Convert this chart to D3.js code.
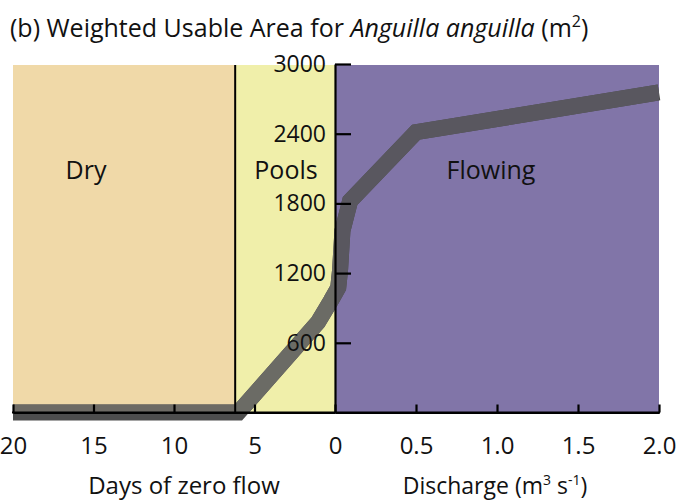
<!DOCTYPE html>
<html>
<head>
<meta charset="utf-8">
<script src="https://cdn.jsdelivr.net/npm/d3@7/dist/d3.min.js"></script>
<style>
  html, body { margin: 0; padding: 0; background: #fff; }
  svg { display: block; font-family: "Open Sans", "Noto Sans", sans-serif; }
</style>
</head>
<body>
<svg id="chart" width="676" height="502"></svg>
<script>
// ---- data ----
const dayTicks = [20, 15, 10, 5, 0];
const dischargeTicks = [0.5, 1.0, 1.5, 2.0];
const dischargeTickLabels = ["0.5", "1.0", "1.5", "2.0"];
const wuaTicks = [600, 1200, 1800, 2400, 3000];
const regionNames = ["Dry", "Pools", "Flowing"];
const dryPoolsBoundaryDays = 6.2;
// curve, days-of-zero-flow side
const curveDays = [20, 6, 1.06, 0.25];
const curveDaysWUA = [0, 0, 776, 964];
// curve, discharge side
const curveDischarge = [0.02, 0.031, 0.046, 0.093, 0.5, 2.0];
const curveDischargeWUA = [1075, 1221, 1564, 1821, 2413, 2756];

// ---- layout ----
const svg = d3.select("#chart");
const pLeft = 13, pMid = 335, pRight = 659, pTop = 64, pBottom = 412.5;
const xDays = d3.scaleLinear().domain([20, 0]).range([pLeft, pMid]);
const xQ = d3.scaleLinear().domain([0, 2]).range([pMid, pRight]);
const y = d3.scaleLinear().domain([0, 3000]).range([pBottom, pTop]);

const regionColors = ["#F0D9A8", "#F0EFAA", "#8175A8"];
const lineColors = ["#6d6a64", "#6b6b65", "#59575f"];
const regionSpans = [
  [xDays(20), xDays(dryPoolsBoundaryDays)],
  [xDays(dryPoolsBoundaryDays), xDays(0)],
  [xQ(0), xQ(2)]
];

// backgrounds
svg.append("g").selectAll("rect").data(regionSpans).join("rect")
  .attr("x", d => d[0]).attr("y", y(3000) + 1)
  .attr("width", d => d[1] - d[0]).attr("height", d => pBottom - y(3000) - 1)
  .attr("fill", (d, i) => regionColors[i]);

// clip paths per region
const defs = svg.append("defs");
regionSpans.forEach((d, i) => {
  defs.append("clipPath").attr("id", "clip" + i).append("rect")
    .attr("x", d[0]).attr("y", y(3000) + 1)
    .attr("width", d[1] - d[0]).attr("height", pBottom - y(3000) - 1);
});

// curve points
const pts = curveDays.map((d, i) => [xDays(d), y(curveDaysWUA[i])])
  .concat(curveDischarge.map((q, i) => [xQ(q), y(curveDischargeWUA[i])]));
const pathD = d3.line()(pts);

svg.append("path").attr("d", pathD)
  .attr("fill", "none").attr("stroke", "#4d4d4d").attr("stroke-width", 16)
  .attr("stroke-linejoin", "miter").attr("stroke-linecap", "butt");
lineColors.forEach((c, i) => {
  svg.append("path").attr("d", pathD).attr("clip-path", `url(#clip${i})`)
    .attr("fill", "none").attr("stroke", c).attr("stroke-width", 16)
    .attr("stroke-linejoin", "miter").attr("stroke-linecap", "butt");
});

// boundary line between dry and pools
svg.append("line")
  .attr("x1", xDays(dryPoolsBoundaryDays)).attr("x2", xDays(dryPoolsBoundaryDays))
  .attr("y1", y(3000) + 1).attr("y2", pBottom)
  .attr("stroke", "#000").attr("stroke-width", 2);

// region labels
const labelX = [86, 286, 491];
svg.append("g").selectAll("text").data(regionNames).join("text")
  .attr("x", (d, i) => labelX[i]).attr("y", 179)
  .attr("text-anchor", "middle").attr("font-size", 25).attr("fill", "#111")
  .text(d => d);

// y axis
const yAxis = d3.axisLeft(y).tickValues(wuaTicks).tickSizeInner(-16).tickSizeOuter(0).tickPadding(9)
  .tickFormat(d3.format("d"));
const gy = svg.append("g").attr("transform", `translate(${pMid},0)`).call(yAxis);
gy.select(".domain").attr("stroke-width", 2.2);
gy.selectAll(".tick line").attr("stroke-width", 2.2);
gy.selectAll(".tick text").attr("font-size", 23).attr("fill", "#111")
  .attr("font-family", "'Open Sans', sans-serif");

// x axes
const xAxisDays = d3.axisBottom(xDays).tickValues(dayTicks).tickSizeInner(-8).tickSizeOuter(0).tickPadding(24)
  .tickFormat(d3.format("d"));
const gxd = svg.append("g").attr("transform", `translate(0,${pBottom})`).call(xAxisDays);
const xAxisQ = d3.axisBottom(xQ).tickValues(dischargeTicks).tickSizeInner(-8).tickSizeOuter(0).tickPadding(24)
  .tickFormat((d, i) => dischargeTickLabels[i]);
const gxq = svg.append("g").attr("transform", `translate(0,${pBottom})`).call(xAxisQ);
[gxd, gxq].forEach(g => {
  g.select(".domain").attr("stroke-width", 2.2);
  g.selectAll(".tick line").attr("stroke-width", 2.2);
  g.selectAll(".tick text").attr("font-size", 24).attr("fill", "#111")
    .attr("font-family", "'Open Sans', sans-serif");
});
svg.append("line").attr("x1", xDays(20) - 1).attr("x2", xQ(2) + 1)
  .attr("y1", pBottom).attr("y2", pBottom).attr("stroke", "#000").attr("stroke-width", 2.2);

// axis titles
svg.append("text").attr("x", 184).attr("y", 494).attr("text-anchor", "middle")
  .attr("font-size", 24).attr("fill", "#111")
  .text("Days of zero flow");
const qt = svg.append("text").attr("x", 495).attr("y", 494).attr("text-anchor", "middle")
  .attr("font-size", 23).attr("fill", "#111");
qt.append("tspan").text("Discharge (m");
qt.append("tspan").attr("font-size", 14).attr("dy", -9).text("3");
qt.append("tspan").attr("dy", 9).text(" s");
qt.append("tspan").attr("font-size", 14).attr("dy", -9).text("-1");
qt.append("tspan").attr("dy", 9).text(")");

// title
const tt = svg.append("text").attr("x", 10).attr("y", 37).attr("font-size", 25).attr("fill", "#111");
tt.append("tspan").text("(b) Weighted Usable Area for ");
tt.append("tspan").attr("font-style", "italic").text("Anguilla anguilla");
tt.append("tspan").text(" (m");
tt.append("tspan").attr("font-size", 16).attr("dy", -10).text("2");
tt.append("tspan").attr("dy", 10).text(")");
</script>
</body>
</html>
